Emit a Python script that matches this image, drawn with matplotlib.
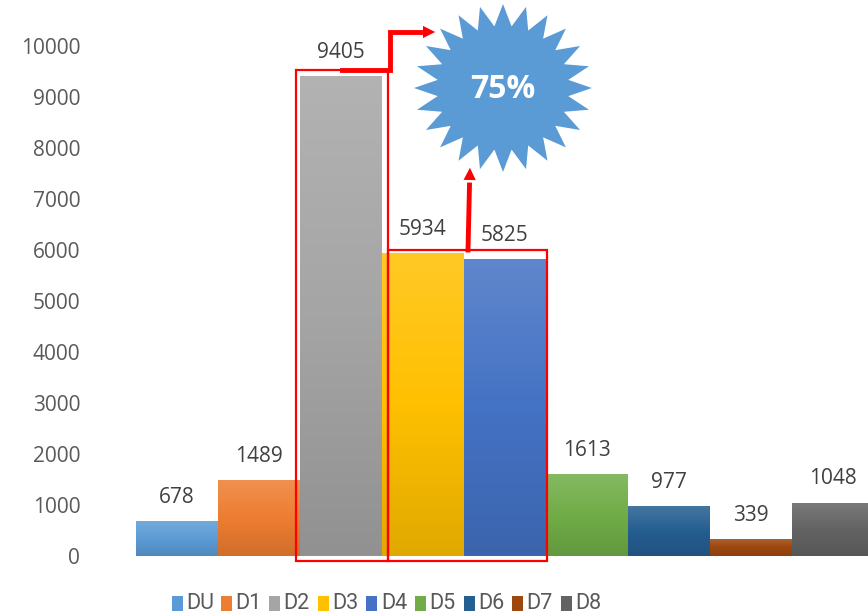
import numpy as np
import matplotlib
matplotlib.use("Agg")
import matplotlib.pyplot as plt
from matplotlib.patches import Rectangle, Polygon, FancyArrowPatch
from matplotlib.colors import to_rgb, LinearSegmentedColormap

plt.rcParams['font.family'] = ['Open Sans', 'DejaVu Sans']

series = ["DU", "D1", "D2", "D3", "D4", "D5", "D6", "D7", "D8"]
values = [678, 1489, 9405, 5934, 5825, 1613, 977, 339, 1048]
colors = ["#5B9BD5", "#ED7D31", "#A5A5A5", "#FFC000", "#4472C4",
          "#70AD47", "#255E91", "#9E480E", "#636363"]
yticks = [0, 1000, 2000, 3000, 4000, 5000, 6000, 7000, 8000, 9000, 10000]
callout = "75%"

W, H = 868, 615
fig = plt.figure(figsize=(W / 100, H / 100), dpi=100)

# axes geometry in pixels
L, R, B = 90, 868, 556
px_per_bar = 82.0
x0 = 136
lo = -0.5 - (x0 - L) / px_per_bar
hi = lo + (R - L) / px_per_bar
ymax = B / 0.051

ax = fig.add_axes([L / W, (H - B) / H, (R - L) / W, B / H])
ax.set_xlim(lo, hi)
ax.set_ylim(0, ymax)
for s in ax.spines.values():
    s.set_visible(False)
ax.set_xticks([])
ax.set_yticks(yticks)
ax.set_yticklabels([str(v) for v in yticks], fontsize=15, color="#595959")
ax.tick_params(axis='y', length=0, pad=7)

text_col = "#404040"
for i, (name, v, c) in enumerate(zip(series, values, colors)):
    bars = ax.bar(i, v, width=1.0, color=c, edgecolor='none', label=name, zorder=2)
    patch = bars[0]
    rgb = np.array(to_rgb(c))
    top = rgb + (1 - rgb) * 0.15
    bot = rgb * 0.88
    cmap = LinearSegmentedColormap.from_list("g%d" % i, [bot, rgb, top])
    grad = np.linspace(0, 1, 256).reshape(-1, 1)
    im = ax.imshow(grad, extent=(i - 0.5, i + 0.5, 0, v), origin='lower',
                   cmap=cmap, aspect='auto', zorder=3)
    im.set_clip_path(patch)
    ax.annotate(str(v), (i, v), xytext=(0, 17), textcoords='offset points',
                ha='center', va='center', fontsize=15, color=text_col, zorder=5)

ax.set_xlim(lo, hi)
ax.set_ylim(0, ymax)

# overlay in pixel coordinates for decorations and legend
ov = fig.add_axes([0, 0, 1, 1], facecolor='none')
ov.set_xlim(0, W)
ov.set_ylim(H, 0)
ov.axis('off')

# legend (manual placement)
leg_x0, leg_dx, leg_y = 172, 48.6, 603
for i, (name, c) in enumerate(zip(series, colors)):
    lx = leg_x0 + i * leg_dx
    ov.add_patch(Rectangle((lx, leg_y - 7.5), 11, 15, facecolor=c, edgecolor='none'))
    ov.text(lx + 14.5, leg_y + 0.5, name, ha='left', va='center', fontsize=15.5,
            color="#595959", family=['Roboto', 'DejaVu Sans'])

red = "#FF0000"
ov.add_patch(Rectangle((296, 70), 92, 491, fill=False, edgecolor=red, lw=1.6, zorder=6))
ov.add_patch(Rectangle((388, 250), 159, 311, fill=False, edgecolor=red, lw=1.6, zorder=6))

# starburst
cx, cy, rx, ry = 503, 88, 89, 84
n = 24
ang = np.linspace(0, 2 * np.pi, 2 * n, endpoint=False) + np.pi / 2
rr = np.where(np.arange(2 * n) % 2 == 0, 1.0, 0.74)
pts = np.column_stack([cx + rx * rr * np.cos(ang), cy - ry * rr * np.sin(ang)])
ov.add_patch(Polygon(pts, closed=True, facecolor="#5B9BD5", edgecolor='none', zorder=6))
ov.text(cx, cy + 1, callout, ha='center', va='center', fontsize=23,
        fontweight='bold', color='white', zorder=7)

# arrows
ov.plot([342, 390, 390, 420], [70, 70, 32, 32], color=red, lw=3.5,
        solid_joinstyle='miter', zorder=7)
ov.add_patch(FancyArrowPatch((418, 32), (438, 32), arrowstyle='-|>',
                             mutation_scale=22, color=red, lw=0, zorder=7))
ov.plot([468, 469.5], [250, 185], color=red, lw=3.5, zorder=7)
ov.add_patch(FancyArrowPatch((469.5, 187), (470, 165), arrowstyle='-|>',
                             mutation_scale=22, color=red, lw=0, zorder=7))

fig.savefig("out.png", dpi=100)
